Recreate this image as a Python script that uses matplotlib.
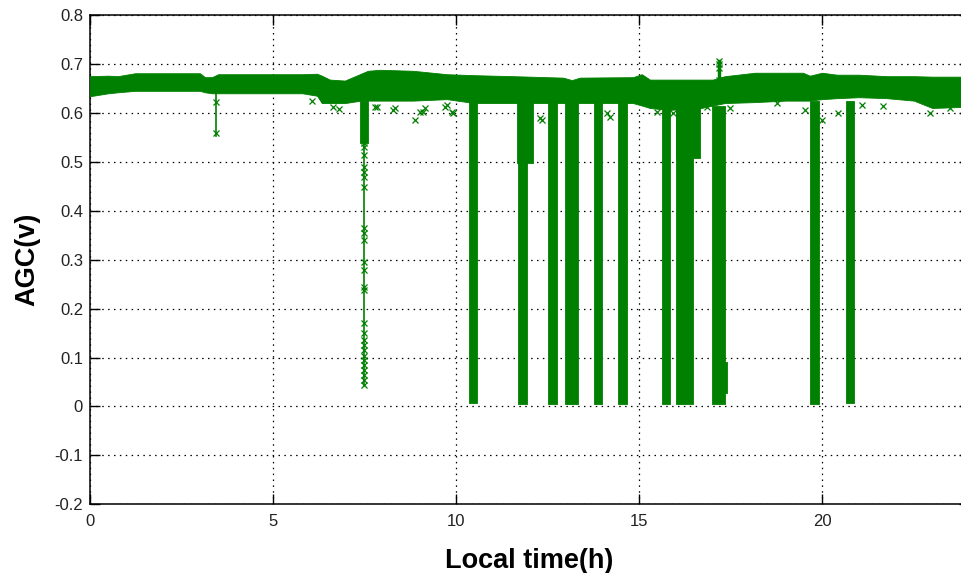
import matplotlib
matplotlib.use("Agg")
import matplotlib.pyplot as plt
from matplotlib.ticker import FuncFormatter, MultipleLocator

# ---------------- data ----------------
# envelope of the dense AGC band (time in hours, volts)
band_t = [0.0, 0.5, 0.76, 1.23, 3.0, 3.14, 3.33, 3.5, 5.8, 6.2, 6.33, 6.55, 6.96,
          7.4, 7.59, 7.92, 8.82, 9.75, 10.5, 11.55, 12.92, 13.16, 13.38, 14.83,
          15.07, 15.29, 15.8, 16.7, 17.01, 17.34, 18.16, 19.0, 19.47, 19.66,
          19.99, 20.4, 21.0, 21.76, 22.5, 23.0, 23.78, 24.0]
band_hi = [0.675, 0.676, 0.675, 0.681, 0.681, 0.673, 0.673, 0.679, 0.679, 0.680,
           0.676, 0.668, 0.666, 0.680, 0.686, 0.688, 0.686, 0.679, 0.677, 0.675,
           0.672, 0.667, 0.672, 0.673, 0.679, 0.668, 0.668, 0.668, 0.668, 0.675,
           0.682, 0.682, 0.682, 0.676, 0.682, 0.678, 0.678, 0.675, 0.675, 0.674,
           0.674, 0.674]
band_lo = [0.634, 0.640, 0.642, 0.645, 0.645, 0.642, 0.640, 0.640, 0.640, 0.635,
           0.620, 0.620, 0.620, 0.625, 0.625, 0.625, 0.625, 0.628, 0.620, 0.620,
           0.620, 0.620, 0.620, 0.620, 0.615, 0.610, 0.606, 0.610, 0.615, 0.620,
           0.622, 0.625, 0.625, 0.625, 0.628, 0.630, 0.632, 0.630, 0.625, 0.610,
           0.612, 0.612]

# signal drop-outs: start (h), end (h), lowest value, highest value
dip_start = [10.34, 11.69, 11.66, 12.51, 12.97, 13.76, 14.42, 15.62, 16.00, 16.00,
             17.00, 17.25, 19.66, 20.64]
dip_end = [10.58, 11.94, 12.10, 12.75, 13.33, 13.98, 14.66, 15.84, 16.47, 16.66,
           17.34, 17.40, 19.91, 20.86]
dip_low = [0.007, 0.005, 0.497, 0.005, 0.005, 0.005, 0.005, 0.005, 0.005, 0.508,
           0.005, 0.027, 0.005, 0.007]
dip_high = [0.625, 0.620, 0.625, 0.620, 0.620, 0.620, 0.620, 0.615, 0.610, 0.610,
            0.615, 0.090, 0.625, 0.625]

# isolated drops drawn as a thin line with markers
drop1_t = 3.44
drop1_v = [0.640, 0.623, 0.558, 0.553]
drop2_t = 7.48
drop2_v = [0.600, 0.538, 0.531, 0.514, 0.490, 0.480, 0.469, 0.449, 0.364, 0.354,
           0.340, 0.295, 0.279, 0.244, 0.238, 0.170, 0.150, 0.135, 0.125, 0.115,
           0.104, 0.094, 0.084, 0.074, 0.064, 0.054, 0.043]
drop2_solid = (7.37, 7.60, 0.538)

# upward spike around 17.2 h
spike_t = 17.18
spike_v = [0.668, 0.692, 0.700, 0.705]

# scattered samples below the band
scat_t = [6.06, 6.64, 6.80, 7.78, 7.83, 8.27, 8.33, 8.87, 9.00, 9.10, 9.15, 9.69,
          9.75, 9.88, 9.92, 12.29, 12.35, 14.12, 14.20, 15.37, 15.48, 15.92,
          16.85, 17.48, 18.76, 19.53, 19.99, 20.43, 21.08, 21.66, 22.94, 23.5]
scat_v = [0.625, 0.612, 0.608, 0.612, 0.612, 0.606, 0.610, 0.585, 0.602, 0.602,
          0.610, 0.612, 0.617, 0.602, 0.600, 0.589, 0.585, 0.600, 0.592, 0.616,
          0.602, 0.600, 0.612, 0.610, 0.620, 0.606, 0.585, 0.600, 0.616, 0.613,
          0.600, 0.610]

x_ticks = [0, 5, 10, 15, 20]
x_label = "Local time(h)"
y_label = "AGC(v)"

# ---------------- drawing ----------------
GREEN = "#008000"
W, H = 961, 573
fig = plt.figure(figsize=(W / 100, H / 100), dpi=100)
ax = fig.add_axes([90 / W, (H - 504.3) / H, 878.8 / W, 489.3 / H])

ax.fill_between(band_t, band_lo, band_hi, color=GREEN, lw=0.6, zorder=3)

for s, e, lo, hi in zip(dip_start, dip_end, dip_low, dip_high):
    ax.fill_between([s, e], [lo, lo], [hi, hi], color=GREEN, lw=0.6, zorder=3)

ax.plot([drop1_t] * len(drop1_v), drop1_v, color=GREEN, lw=1.2, marker="x",
        ms=5, mew=0.9, zorder=3, markevery=[1, 2])
ax.fill_between([drop2_solid[0], drop2_solid[1]], [drop2_solid[2]] * 2,
                [0.625, 0.625], color=GREEN, lw=0.6, zorder=3)
ax.plot([drop2_t] * len(drop2_v), drop2_v, color=GREEN, lw=1.2, marker="x",
        ms=5, mew=0.9, zorder=3)
ax.plot([spike_t] * len(spike_v), spike_v, color=GREEN, lw=2.5, marker="x",
        ms=5, mew=0.9, zorder=3)
ax.plot(scat_t, scat_v, ls="none", color=GREEN, marker="x", ms=5, mew=0.9,
        zorder=3)

ax.set_xlim(0, 24)
ax.set_ylim(-0.2, 0.8)
ax.set_xticks(x_ticks)
ax.yaxis.set_major_locator(MultipleLocator(0.1))


def yfmt(v, _):
    v = round(v, 1)
    if v == 0:
        return "0"
    return ("%.1f" % v).replace("\u2212", "-")


ax.yaxis.set_major_formatter(FuncFormatter(yfmt))
ax.xaxis.set_major_formatter(FuncFormatter(lambda v, _: "%d" % v))

ax.grid(True, color="black", linestyle=(0, (1.2, 3.5)), linewidth=0.9)
ax.set_axisbelow(True)
ax.tick_params(direction="in", top=True, right=True, length=7, width=1.0,
               labelsize=12, colors="black")
ax.tick_params(axis="x", pad=7)
ax.tick_params(axis="y", pad=5)
for lab in ax.get_xticklabels() + ax.get_yticklabels():
    lab.set_fontfamily("Liberation Sans")
    lab.set_color("#222222")
for sp in ax.spines.values():
    sp.set_linewidth(1.1)

ax.set_xlabel(x_label, fontsize=19.5, fontweight="bold",
              fontfamily="Liberation Sans")
ax.set_ylabel(y_label, fontsize=19.5, fontweight="bold",
              fontfamily="Liberation Sans")
ax.xaxis.set_label_coords(0.5, -0.09)
ax.yaxis.set_label_coords(-0.056, 0.5)

fig.savefig("out.png", dpi=100)
